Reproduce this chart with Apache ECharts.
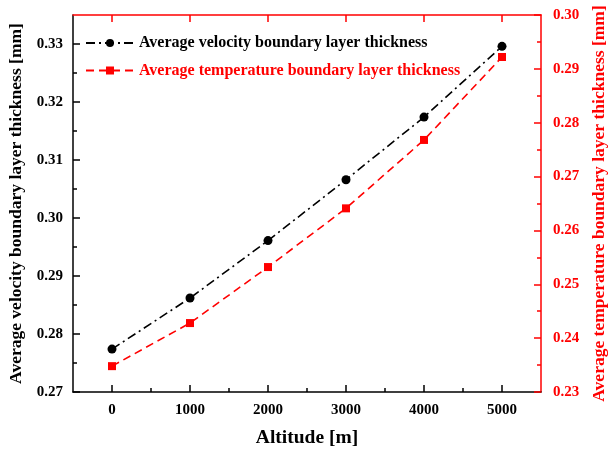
<!DOCTYPE html>
<html><head><meta charset="utf-8">
<script src="https://cdn.jsdelivr.net/npm/echarts@6/dist/echarts.min.js"></script>
<style>html,body{margin:0;padding:0;background:#fff}#c{width:613px;height:453px}</style>
</head><body><div id="c"></div>
<script>
const altitudes = [0, 1000, 2000, 3000, 4000, 5000];
const velocityThickness = [0.2774, 0.2862, 0.2961, 0.3066, 0.3174, 0.3296];
const temperatureThickness = [0.2348, 0.2428, 0.2532, 0.2641, 0.2768, 0.2922];
const xMajorTicks = [0, 1000, 2000, 3000, 4000, 5000];
const xMinorTicks = [500, 1500, 2500, 3500, 4500];
const leftMajorTicks = [0.27, 0.28, 0.29, 0.30, 0.31, 0.32, 0.33];
const leftMinorTicks = [0.275, 0.285, 0.295, 0.305, 0.315, 0.325];
const rightMajorTicks = [0.23, 0.24, 0.25, 0.26, 0.27, 0.28, 0.29, 0.30];
const rightMinorTicks = [0.235, 0.245, 0.255, 0.265, 0.275, 0.285, 0.295];
const seriesNames = ['Average velocity boundary layer thickness', 'Average temperature boundary layer thickness'];

const RED = '#ff0000', BLACK = '#000000';
const FF = '"Liberation Serif", "Times New Roman", serif';
const gridRect = {left: 73, right: 72, top: 15, bottom: 61, containLabel: false, outerBoundsMode: 'none'};
const X_MIN = -500, X_MAX = 5500;
const L_MIN = 0.27, L_MAX = 0.335, R_MIN = 0.23, R_MAX = 0.30;
const pair = (xs, ys) => xs.map((x, i) => [x, ys[i]]);
const fmt2 = v => Number(v).toFixed(2);
const fmtInt = v => String(Math.round(v));

const chart = echarts.init(document.getElementById('c'));
chart.setOption({
  animation: false,
  backgroundColor: '#fff',
  grid: [Object.assign({}, gridRect), Object.assign({}, gridRect)],
  legend: {
    left: 85, top: 35, padding: 0, orient: 'vertical', itemWidth: 48, itemHeight: 10, itemGap: 11.5,
    textStyle: {fontFamily: FF, fontWeight: 'bold', fontSize: 16},
    data: [
      {name: seriesNames[0], textStyle: {color: BLACK}},
      {name: seriesNames[1], textStyle: {color: RED}}
    ]
  },
  xAxis: [
    {type: 'value', gridIndex: 0, position: 'bottom', min: X_MIN, max: X_MAX,
     name: 'Altitude [m]', nameLocation: 'middle', nameGap: 36,
     nameTextStyle: {fontFamily: FF, fontWeight: 'bold', fontSize: 19.5, color: BLACK},
     axisLine: {onZero: false, lineStyle: {color: BLACK, width: 1.5}},
     axisTick: {inside: true, length: 7, customValues: xMajorTicks, lineStyle: {color: BLACK, width: 1.5}},
     axisLabel: {customValues: xMajorTicks, formatter: fmtInt, margin: 11, fontFamily: FF, fontWeight: 'bold', fontSize: 15, color: BLACK},
     splitLine: {show: false}},
    {type: 'value', gridIndex: 0, position: 'top', min: X_MIN, max: X_MAX,
     axisLine: {onZero: false, lineStyle: {color: RED, width: 1.5}},
     axisTick: {inside: true, length: 7, customValues: xMajorTicks, lineStyle: {color: RED, width: 1.5}},
     axisLabel: {show: false}, splitLine: {show: false}},
    {type: 'value', gridIndex: 1, position: 'bottom', min: X_MIN, max: X_MAX,
     axisLine: {show: false, onZero: false},
     axisTick: {inside: true, length: 4, customValues: xMinorTicks, lineStyle: {color: BLACK, width: 1.5}},
     axisLabel: {show: false}, splitLine: {show: false}}
  ],
  yAxis: [
    {type: 'value', gridIndex: 0, position: 'left', min: L_MIN, max: L_MAX,
     name: 'Average velocity boundary layer thickness [mm]', nameLocation: 'middle', nameRotate: 90, nameGap: 45,
     nameTextStyle: {fontFamily: FF, fontWeight: 'bold', fontSize: 17.5, color: BLACK},
     axisLine: {show: true, onZero: false, lineStyle: {color: BLACK, width: 1.5}},
     axisTick: {show: true, inside: true, length: 7, customValues: leftMajorTicks, lineStyle: {color: BLACK, width: 1.5}},
     axisLabel: {customValues: leftMajorTicks, formatter: fmt2, margin: 10, fontFamily: FF, fontWeight: 'bold', fontSize: 15, color: BLACK},
     splitLine: {show: false}},
    {type: 'value', gridIndex: 0, position: 'right', min: R_MIN, max: R_MAX,
     name: 'Average temperature boundary layer thickness [mm]', nameLocation: 'middle', nameRotate: 90, nameGap: 48,
     nameTextStyle: {fontFamily: FF, fontWeight: 'bold', fontSize: 17.5, color: RED},
     axisLine: {show: true, onZero: false, lineStyle: {color: RED, width: 1.5}},
     axisTick: {show: true, inside: true, length: 7, customValues: rightMajorTicks, lineStyle: {color: RED, width: 1.5}},
     axisLabel: {customValues: rightMajorTicks, formatter: fmt2, margin: 12, fontFamily: FF, fontWeight: 'bold', fontSize: 15, color: RED},
     splitLine: {show: false}},
    {type: 'value', gridIndex: 1, position: 'left', min: L_MIN, max: L_MAX,
     axisLine: {show: false, onZero: false},
     axisTick: {show: true, inside: true, length: 4, customValues: leftMinorTicks, lineStyle: {color: BLACK, width: 1.5}},
     axisLabel: {show: false}, splitLine: {show: false}},
    {type: 'value', gridIndex: 1, position: 'right', min: R_MIN, max: R_MAX,
     axisLine: {show: false, onZero: false},
     axisTick: {show: true, inside: true, length: 4, customValues: rightMinorTicks, lineStyle: {color: RED, width: 1.5}},
     axisLabel: {show: false}, splitLine: {show: false}}
  ],
  series: [
    {name: seriesNames[0], type: 'line', xAxisIndex: 0, yAxisIndex: 0,
     data: pair(altitudes, velocityThickness),
     symbol: 'circle', symbolSize: 9, z: 3,
     itemStyle: {color: BLACK},
     lineStyle: {color: BLACK, width: 1.6, type: [9, 4, 2, 4]}},
    {name: seriesNames[1], type: 'line', xAxisIndex: 0, yAxisIndex: 1,
     data: pair(altitudes, temperatureThickness),
     symbol: 'rect', symbolSize: 8, z: 3,
     itemStyle: {color: RED},
     lineStyle: {color: RED, width: 1.6, type: [8, 5]}}
  ]
});
</script></body></html>
